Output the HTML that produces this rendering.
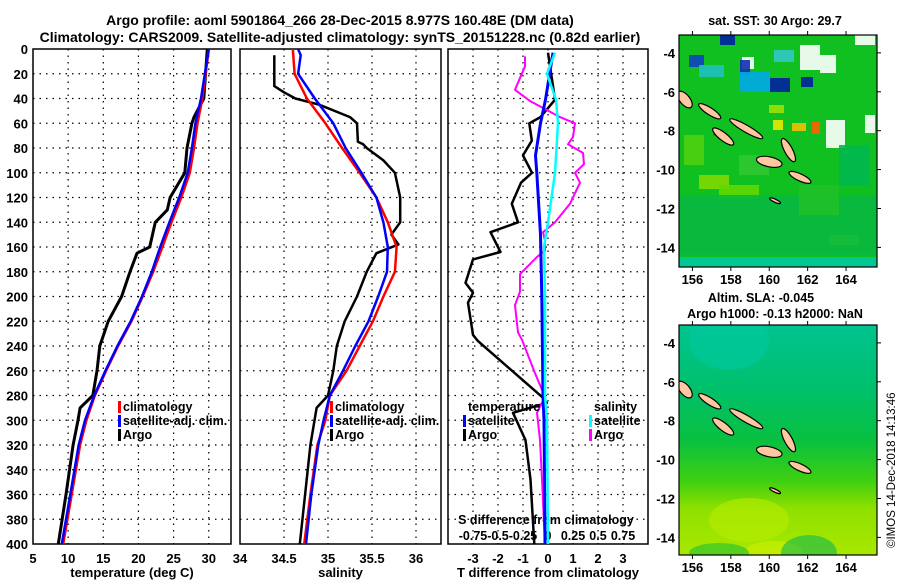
<!DOCTYPE html>
<html><head><meta charset="utf-8"><style>
html,body{margin:0;padding:0;background:#fff;}
svg{display:block;font-family:"Liberation Sans",sans-serif;font-weight:bold;}
</style></head><body>
<svg id="fig" width="900" height="580" viewBox="0 0 900 580" xmlns="http://www.w3.org/2000/svg">
<defs>
<linearGradient id="slaGrad" x1="0" y1="0" x2="0" y2="1">
<stop offset="0" stop-color="#00c490"/><stop offset="0.25" stop-color="#00c070"/><stop offset="0.5" stop-color="#08c040"/><stop offset="0.68" stop-color="#40d010"/><stop offset="0.8" stop-color="#90e000"/><stop offset="1" stop-color="#a8e800"/>
</linearGradient>
<clipPath id="c1"><rect x="33" y="49" width="198" height="495"/></clipPath>
<clipPath id="c2"><rect x="240" y="49" width="201" height="495"/></clipPath>
<clipPath id="c3"><rect x="448" y="49" width="200" height="495"/></clipPath>
<clipPath id="cm1"><rect x="0" y="0" width="198" height="232"/></clipPath>
<clipPath id="cm2"><rect x="0" y="0" width="198" height="230"/></clipPath>
</defs>
<g font-size="14" text-anchor="middle">
<text x="340" y="25">Argo profile: aoml 5901864_266 28-Dec-2015 8.977S 160.48E (DM data)</text>
<text x="340" y="42">Climatology: CARS2009. Satellite-adjusted climatology: synTS_20151228.nc (0.82d earlier)</text>
</g>
<g id="axes"></g>
<g id="series"></g>
<g id="legends" font-size="12.5"></g>
<g id="maps"></g>
<text transform="translate(895,548) rotate(-90)" font-size="11.5" font-weight="normal">©IMOS 14-Dec-2018 14:13:46</text>
</svg>
<script>
// ---------- data ----------
const depthTicks=[0,20,40,60,80,100,120,140,160,180,200,220,240,260,280,300,320,340,360,380,400];
const tempTicks=[5,10,15,20,25,30];
const salTicks=[34,34.5,35,35.5,36];
const tdiffTicks=[-3,-2,-1,0,1,2,3];
const sdiffTicks=[-0.75,-0.5,-0.25,0,0.25,0.5,0.75];
const sdiffTickLabels=["-0.75","-0.5","-0.25","0","0.25","0.5","0.75"];

const tDepthClim=[0,40,60,80,100,120,140,160,180,200,220,240,260,280,300,320,360,400];
const tempClim=[30,29.1,28.4,27.9,27.3,26.1,24.7,23.4,22.1,20.6,19.0,17.1,15.4,13.8,12.6,11.7,10.5,9.3];
const tempSat=[30,28.9,28.1,27.6,27.0,25.8,24.4,23.1,21.9,20.5,18.9,17.0,15.3,13.7,12.4,11.5,10.3,9.1];
const tDepthArgo=[0,40,55,60,80,100,120,130,140,160,165,180,200,220,240,260,280,290,300,320,360,400];
const tempArgo=[29.8,29.3,27.9,27.6,26.9,26.6,24.5,24.1,22.4,21.6,19.8,18.8,17.6,15.7,14.5,14.1,13.5,11.7,11.4,10.7,9.7,8.6];

const sDepthClim=[0,20,40,60,80,100,120,140,160,180,200,220,240,260,280,300,320,360,400];
const salClim=[34.6,34.62,34.76,34.97,35.16,35.36,35.55,35.68,35.78,35.76,35.63,35.51,35.36,35.21,35.02,34.97,34.88,34.8,34.73];
const sDepthSat=[0,5,20,40,60,80,100,120,140,160,180,200,220,240,260,280,300,320,360,400];
const salSat=[34.66,34.69,34.66,34.85,35.06,35.2,35.38,35.55,35.63,35.68,35.67,35.57,35.46,35.31,35.17,35.02,34.95,34.89,34.81,34.75];
const sDepthArgo=[5,30,35,40,45,55,60,75,77,80,90,100,120,140,150,158,165,180,200,220,240,260,280,290,320,360,400];
const salArgo=[34.39,34.39,34.5,34.63,34.9,35.25,35.33,35.34,35.4,35.44,35.63,35.76,35.82,35.82,35.72,35.8,35.55,35.44,35.33,35.19,35.1,35.06,35.0,34.87,34.8,34.74,34.68];

const dDepthTArgo=[3,41,55,60,74,86,100,108,125,140,148,164,170,189,197,205,231,236,281,286,294,316,348,400];
const tdiffArgo=[0,0.28,-0.3,-0.75,-0.65,-1.0,-0.64,-1.08,-1.45,-1.2,-2.3,-1.9,-3.0,-3.3,-3.0,-3.2,-3.0,-2.8,-0.25,-0.05,-1.4,-0.9,-0.7,-0.55];
const dDepthTSat=[3,41,60,86,100,150,200,280,300,400];
const tdiffSat=[0.2,-0.1,-0.3,-0.5,-0.45,-0.3,-0.25,-0.2,-0.16,-0.12];
const dDepthSArgo=[6,14,33,42,55,60,71,77,84,93,100,108,125,140,148,155,163,168,182,196,207,229,235,262,281,294,316,348,400];
const sdiffArgo=[-0.23,-0.23,-0.33,-0.18,0.12,0.27,0.25,0.2,0.35,0.36,0.27,0.32,0.22,0.07,-0.05,-0.03,-0.03,-0.11,-0.28,-0.28,-0.33,-0.3,-0.26,-0.13,-0.03,-0.11,-0.08,-0.06,-0.03];
const dDepthSSat=[3,20,41,60,100,140,160,200,280,300,400];
const sdiffSat=[0.07,-0.01,0.08,0.1,0.07,0,-0.04,-0.03,-0.03,-0.01,0];

const mapLonTicks=[156,158,160,162,164];
const mapLatTicks=[-4,-6,-8,-10,-12,-14];

// ---------- scales ----------
const NS="http://www.w3.org/2000/svg";
const yD=d=>49+d*1.2375;
const xT=t=>33+(t-5)*7.03;
const xS=s=>240+(s-34)*88;
const xTd=v=>548+v*25;
const xSd=v=>548+v*100;
const mX=lon=>(lon-155.3)*19.2;
const mY=lat=>(-3.08-lat)*19.45;
function mk(tag,attrs,parent){const e=document.createElementNS(NS,tag);for(const k in attrs)e.setAttribute(k,attrs[k]);parent.appendChild(e);return e;}
const axes=document.getElementById('axes');
const series=document.getElementById('series');
const legends=document.getElementById('legends');
const maps=document.getElementById('maps');

const panels=[{x0:33,x1:231,name:'temperature-panel',ticks:tempTicks,f:xT,labels:tempTicks.map(String),title:'temperature (deg C)'},
{x0:240,x1:441,name:'salinity-panel',ticks:salTicks,f:xS,labels:salTicks.map(String),title:'salinity'},
{x0:448,x1:648,name:'difference-panel',ticks:tdiffTicks,f:xTd,labels:tdiffTicks.map(String),title:'T difference from climatology'}];
panels.forEach((p,pi)=>{
  const g=mk('g',{},axes);
  
  
  depthTicks.forEach(d=>{
    if(d>0&&d<400){const l=mk('line',{x1:p.x0,x2:p.x1,y1:yD(d),y2:yD(d),stroke:'#000','stroke-width':1.2,'stroke-dasharray':'1.5,5'},g);
    }
  });
  p.ticks.forEach((t,i)=>{
    const x=p.f(t);
    if(x>p.x0+2&&x<p.x1-2){const l=mk('line',{x1:x,x2:x,y1:49,y2:544,stroke:'#000','stroke-width':1.2,'stroke-dasharray':'1.5,5'},g);
    }
    const tx=mk('text',{x:x,y:563,'font-size':13,'text-anchor':'middle'},g);
    tx.textContent=p.labels[i];
    
  });
  const r=mk('rect',{x:p.x0,y:49,width:p.x1-p.x0,height:495,fill:'none',stroke:'#000','stroke-width':1.5},g);
  
  const tt=mk('text',{x:(p.x0+p.x1)/2,y:577,'font-size':13,'text-anchor':'middle'},g);
  tt.textContent=p.title;
  
});
depthTicks.forEach(d=>{
  const t=mk('text',{x:28,y:yD(d)+5,'font-size':13,'text-anchor':'end'},axes);
  t.textContent=d;
  
});
const st=mk('text',{x:546,y:524,'font-size':12.5,'text-anchor':'middle'},axes);
st.textContent='S difference from climatology';

sdiffTicks.forEach((v,i)=>{
  const t=mk('text',{x:xSd(v),y:540,'font-size':12.5,'text-anchor':'middle'},axes);
  t.textContent=sdiffTickLabels[i];
  
});

function line(depths,vals,fx,color,w,clip,name){
  const pts=depths.map((d,i)=>fx(vals[i]).toFixed(1)+','+yD(d).toFixed(1)).join(' ');
  const pl=mk('polyline',{points:pts,fill:'none',stroke:color,'stroke-width':w,'stroke-linejoin':'round','clip-path':'url(#'+clip+')'},series);
  
  
}
line(tDepthArgo,tempArgo,xT,'#000',3,'c1','temperature-argo-line');
line(tDepthClim,tempClim,xT,'#f00',2.5,'c1','temperature-climatology-line');
line(tDepthClim,tempSat,xT,'#00f',2.5,'c1','temperature-satellite-line');
line(sDepthArgo,salArgo,xS,'#000',2.5,'c2','salinity-argo-line');
line(sDepthClim,salClim,xS,'#f00',2.5,'c2','salinity-climatology-line');
line(sDepthSat,salSat,xS,'#00f',2.5,'c2','salinity-satellite-line');
line(dDepthTArgo,tdiffArgo,xTd,'#000',2.5,'c3','tdiff-argo-line');
line(dDepthSArgo,sdiffArgo,xSd,'#f0f',2,'c3','sdiff-argo-line');
line(dDepthTSat,tdiffSat,xTd,'#00f',3,'c3','tdiff-satellite-line');
line(dDepthSSat,sdiffSat,xSd,'#0ff',2.5,'c3','sdiff-satellite-line');

function legend(x,y,color,label,name){
  const g=mk('g',{},legends);
  
  if(color){mk('rect',{x:x-5,y:y-10,width:3,height:12,fill:color},g);}
  const t=mk('text',{x:x,y:y},g);t.textContent=label;
}
legend(123,411,'#f00','climatology','legend-climatology');
legend(123,425,'#00f','satellite-adj. clim.','legend-satellite-adj');
legend(123,439,'#000','Argo','legend-argo');
legend(335,411,'#f00','climatology','legend-sal-climatology');
legend(335,425,'#00f','satellite-adj. clim.','legend-sal-satellite-adj');
legend(335,439,'#000','Argo','legend-sal-argo');
legend(468,411,null,'temperature','legend-temperature-header');
legend(468,425,'#00f','satellite','legend-t-satellite');
legend(468,439,'#000','Argo','legend-t-argo');
legend(594,411,null,'salinity','legend-salinity-header');
legend(594,425,'#0ff','satellite','legend-s-satellite');
legend(594,439,'#f0f','Argo','legend-s-argo');

// ---------- maps ----------
const islands=[[155.6,-6.4,10,5,50],[156.9,-7.0,13,3.5,33],[158.8,-7.9,19,3.5,30],[157.6,-8.3,13,4,38],[161.0,-9.0,13,4,62],[160.0,-9.6,13,5,12],[161.6,-10.4,12,3.5,25],[160.3,-11.6,6,1.5,25]];
const sstPatches=[[121,10,20,25,'#fff'],[141,20,16,18,'#fff'],[147,85,19,28,'#fff'],[186,80,10,18,'#fff'],[176,0,20,10,'#fff'],[63,22,12,12,'#fff'],[91,43,20,14,'#0020a0'],[41,0,15,10,'#0020a0'],[61,25,10,15,'#1030b0'],[10,20,15,12,'#1040c0'],[122,42,12,10,'#0020a0'],[61,37,30,20,'#00a8e8'],[20,30,25,12,'#20c0c0'],[95,15,20,12,'#30c8c8'],[94,85,10,10,'#e8e800'],[133,87,8,12,'#ff6000'],[113,88,14,8,'#f0c000'],[34,95,6,6,'#d04000'],[90,70,15,8,'#a0e000'],[20,140,30,14,'#80d800'],[150,200,30,10,'#a0e000'],[0,222,198,10,'#00c8a0'],[40,150,40,14,'#60d800'],[0,160,198,60,'#08b840'],[5,100,20,30,'#50d010'],[60,120,30,20,'#30c830'],[120,150,40,30,'#20c028'],[160,110,30,40,'#00b850']];
const slaBlobs=[[70,195,40,22,'#b8ec00'],[95,228,30,12,'#d0f000'],[130,228,28,18,'#10b850'],[40,228,30,10,'#20c030'],[50,15,40,30,'#00c8a0']];
function drawMap(y0,h,title,clip,name,isSST){
  const g=mk('g',{transform:'translate(679,'+y0+')'},maps);
  
  const inner=mk('g',{'clip-path':'url(#'+clip+')'},g);
  mk('rect',{x:0,y:0,width:198,height:h,fill:isSST?'#10c020':'url(#slaGrad)'},inner);
  if(isSST){sstPatches.forEach(p=>mk('rect',{x:p[0],y:p[1],width:p[2],height:p[3],fill:p[4],opacity:0.9},inner));}
  else{slaBlobs.forEach(b=>mk('ellipse',{cx:b[0],cy:b[1],rx:b[2],ry:b[3],fill:b[4],opacity:0.6},inner));}
  islands.forEach(s=>{
    const e=mk('ellipse',{cx:mX(s[0]),cy:mY(s[1]),rx:s[2],ry:s[3],fill:'#ffc8a0',stroke:'#000','stroke-width':1.2,transform:'rotate('+s[4]+' '+mX(s[0])+' '+mY(s[1])+')'},inner);
    
  });
  mk('rect',{x:0,y:0,width:198,height:h,fill:'none',stroke:'#000','stroke-width':1.2},g);
  mapLonTicks.forEach(lon=>{
    mk('line',{x1:mX(lon),x2:mX(lon),y1:h,y2:h+4,stroke:'#000'},g);
    mk('line',{x1:mX(lon),x2:mX(lon),y1:0,y2:-4,stroke:'#000'},g);
    const t=mk('text',{x:mX(lon),y:h+17,'font-size':13,'text-anchor':'middle'},g);t.textContent=lon;
    
  });
  mapLatTicks.forEach(lat=>{
    mk('line',{x1:198,x2:202,y1:mY(lat),y2:mY(lat),stroke:'#000'},g);
    const t=mk('text',{x:-4,y:mY(lat)+5,'font-size':13,'text-anchor':'end'},g);t.textContent=lat;
    
  });
  title.forEach((s,i)=>{const t=mk('text',{x:i==0&&isSST?96:(i==0?82:96),y:-23+i*16-(isSST?-13:0),'font-size':12.5,'text-anchor':'middle'},g);t.textContent=s;
    });
}
drawMap(35,232,['sat. SST: 30 Argo: 29.7'],'cm1','sst-map',true);
drawMap(325,230,['Altim. SLA: -0.045','Argo h1000: -0.13 h2000: NaN'],'cm2','sla-map',false);
</script>
</body></html>
